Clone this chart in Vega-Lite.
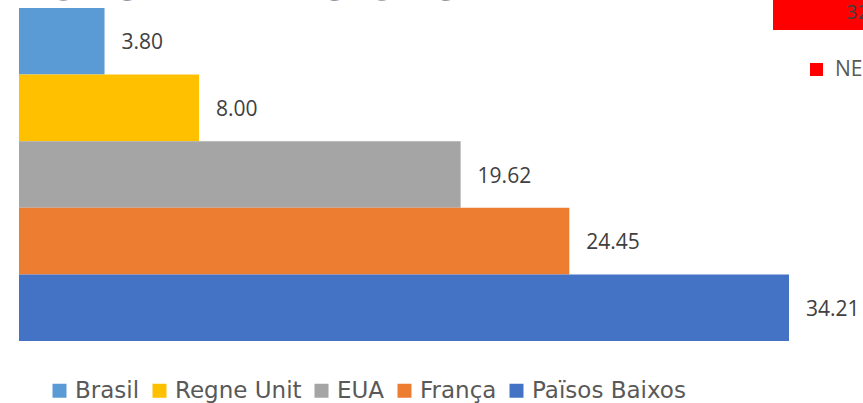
{
  "$schema": "https://vega.github.io/schema/vega-lite/v6.json",
  "padding": {"left": 19, "top": -32, "right": 0, "bottom": 0},
  "background": "white",
  "spacing": 0,
  "bounds": "flush",
  "config": {"view": {"stroke": null}},
  "resolve": {"scale": {"color": "independent", "x": "independent", "y": "independent"}, "legend": {"color": "independent"}},
  "hconcat": [
    {
      "title": {"text": "FONS DE PENSIONS", "anchor": "start", "fontSize": 40, "font": "DejaVu Sans", "fontWeight": "bold", "color": "#3F4462", "offset": 0},
      "width": 770,
      "height": 333,
      "data": {"values": [
        {"pais": "Brasil", "valor": 3.80},
        {"pais": "Regne Unit", "valor": 8.00},
        {"pais": "EUA", "valor": 19.62},
        {"pais": "França", "valor": 24.45},
        {"pais": "Països Baixos", "valor": 34.21}
      ]},
      "encoding": {
        "y": {"field": "pais", "type": "nominal", "sort": ["Brasil", "Regne Unit", "EUA", "França", "Països Baixos"], "scale": {"paddingInner": 0, "paddingOuter": 0}, "axis": null},
        "x": {"field": "valor", "type": "quantitative", "scale": {"domain": [0, 34.21], "nice": false}, "axis": null}
      },
      "layer": [
        {
          "mark": {"type": "bar"},
          "encoding": {
            "color": {
              "field": "pais", "type": "nominal",
              "scale": {"domain": ["Brasil", "Regne Unit", "EUA", "França", "Països Baixos"], "range": ["#5B9BD5", "#FFC000", "#A5A5A5", "#ED7D31", "#4472C4"]},
              "legend": {"orient": "none", "legendX": 29, "legendY": 371, "direction": "horizontal", "title": null, "symbolType": "square", "symbolSize": 196, "symbolStrokeWidth": 0, "labelFont": "DejaVu Sans", "labelFontSize": 23, "labelColor": "#595959", "columnPadding": 8, "labelOffset": 4}
            }
          }
        },
        {
          "mark": {"type": "text", "align": "left", "dx": 17, "dy": 2, "font": "Open Sans", "fontSize": 21, "color": "#404040"},
          "encoding": {"text": {"field": "valor", "type": "quantitative", "format": ".2f"}}
        }
      ]
    },
    {
      "width": 129,
      "height": 22,
      "data": {"values": [{"categoria": "NEGATIU", "valor": 32.5}]},
      "encoding": {
        "y": {"field": "categoria", "type": "nominal", "scale": {"paddingInner": 0, "paddingOuter": 0}, "axis": null},
        "x": {"field": "valor", "type": "quantitative", "scale": {"domain": [0, 32.5], "nice": false}, "axis": null}
      },
      "layer": [
        {
          "mark": {"type": "bar", "height": 60, "yOffset": -19, "xOffset": -16},
          "encoding": {
            "color": {
              "field": "categoria", "type": "nominal",
              "scale": {"range": ["#FF0000"]},
              "legend": {"orient": "none", "legendX": 17, "legendY": 51, "title": null, "symbolType": "square", "symbolSize": 169, "symbolStrokeWidth": 0, "labelFont": "Open Sans", "labelFontSize": 21, "labelColor": "#595959", "labelOffset": 8}
            }
          }
        },
        {
          "mark": {"type": "text", "align": "right", "dx": -5, "xOffset": -16, "yOffset": -6, "font": "Open Sans", "fontSize": 20, "color": "#404040"},
          "encoding": {"text": {"field": "valor", "type": "quantitative", "format": ".2f"}}
        }
      ]
    }
  ]
}
